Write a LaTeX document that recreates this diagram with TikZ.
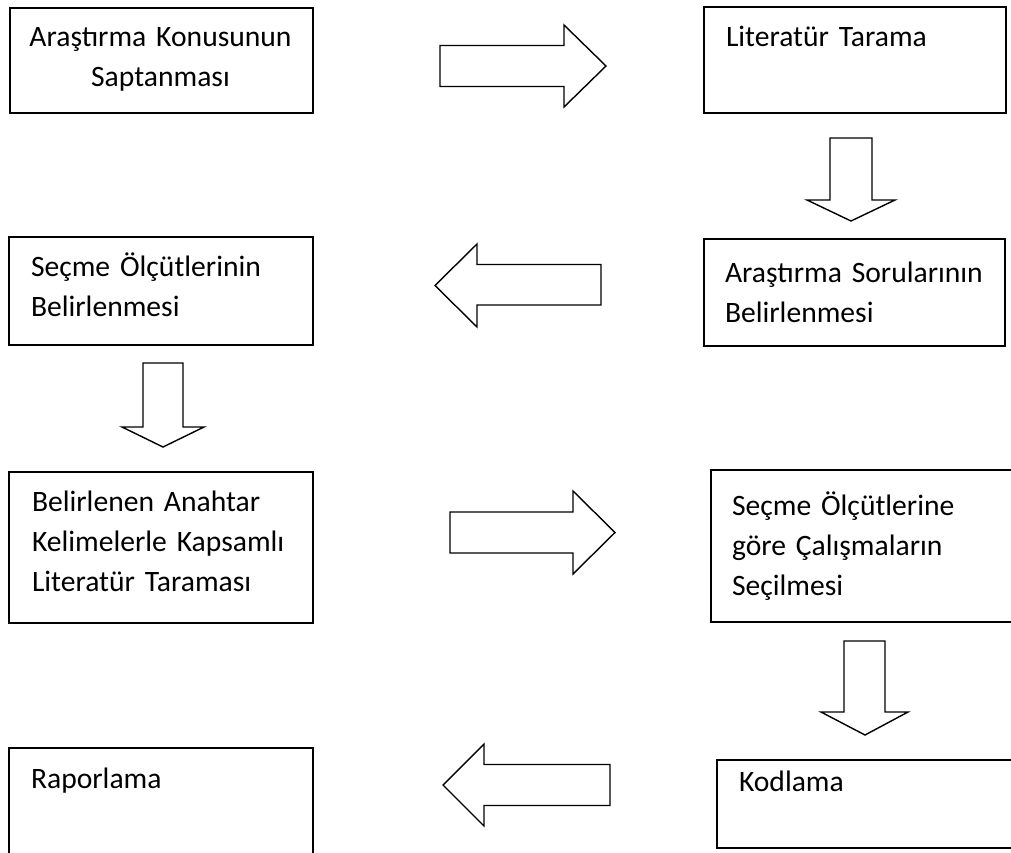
\documentclass[tikz,border=0pt]{standalone}
\usepackage{fontspec}
\setmainfont[WordSpace=0.6]{Carlito}
\begin{document}
\begin{tikzpicture}[x=1pt,y=-1pt,
  box/.style={draw=black, line width=1.7pt, inner sep=0pt, outer sep=0pt},
  txt/.style={inner sep=0pt, outer sep=0pt, text width=290pt, align=left,
    font=\fontsize{29.6}{40}\selectfont},
  arr/.style={draw=black, line width=1.4pt, line join=miter, fill=white}]
\clip (0,0) rectangle (1011,852);
\fill[white] (0,0) rectangle (1011,852);
% boxes
\node[box, minimum width=303pt, minimum height=105pt] (b1) at (161.5,60.5) {};
\node[box, minimum width=302pt, minimum height=106pt] (b2) at (855,60) {};
\node[box, minimum width=301pt, minimum height=107pt] (b3) at (854.5,292.5) {};
\node[box, minimum width=304pt, minimum height=108pt] (b4) at (161,291) {};
\node[box, minimum width=304pt, minimum height=151pt] (b5) at (161,547.5) {};
\node[box, minimum width=320pt, minimum height=152pt] (b6) at (871,546) {};
\node[box, minimum width=320pt, minimum height=88pt] (b7) at (877,804) {};
\node[box, minimum width=304pt, minimum height=120pt] (b8) at (161,808) {};
% texts
\node[txt, text width=303pt, align=center, anchor=base] (t1) at (160.5,46.5) {Araştırma Konusunun\\Saptanması};
\node[txt, anchor=base west] (t2) at (726,46) {Literatür Tarama};
\node[txt, anchor=base west] (t3) at (725,282) {Araştırma Sorularının\\Belirlenmesi};
\node[txt, anchor=base west] (t4) at (31,276.5) {Seçme Ölçütlerinin\\Belirlenmesi};
\node[txt, anchor=base west] (t5) at (32,511.5) {Belirlenen Anahtar\\Kelimelerle Kapsamlı\\Literatür Taraması};
\node[txt, anchor=base west] (t6) at (732,515) {Seçme Ölçütlerine\\göre Çalışmaların\\Seçilmesi};
\node[txt, anchor=base west] (t7) at (739,791) {Kodlama};
\node[txt, anchor=base west] (t8) at (31,788) {Raporlama};
% block arrows
\draw[arr] (440,45.5) -- (564,45.5) -- (564,25) -- (606,66) -- (564,107) -- (564,86.5) -- (440,86.5) -- cycle;
\draw[arr] (830,138) -- (872,138) -- (872,200) -- (895,200) -- (851,221) -- (807,200) -- (830,200) -- cycle;
\draw[arr] (601,264.5) -- (477,264.5) -- (477,244) -- (435,285.5) -- (477,327) -- (477,305) -- (601,305) -- cycle;
\draw[arr] (143,363) -- (183,363) -- (183,427) -- (204,427) -- (163,447) -- (122,427) -- (143,427) -- cycle;
\draw[arr] (450,512) -- (573,512) -- (573,491) -- (615,532.5) -- (573,574) -- (573,553) -- (450,553) -- cycle;
\draw[arr] (844,641) -- (885,641) -- (885,712) -- (908,712) -- (865,735) -- (821,712) -- (844,712) -- cycle;
\draw[arr] (610,764.5) -- (484,764.5) -- (484,744) -- (443,785) -- (484,826) -- (484,805.5) -- (610,805.5) -- cycle;
\end{tikzpicture}
\end{document}
